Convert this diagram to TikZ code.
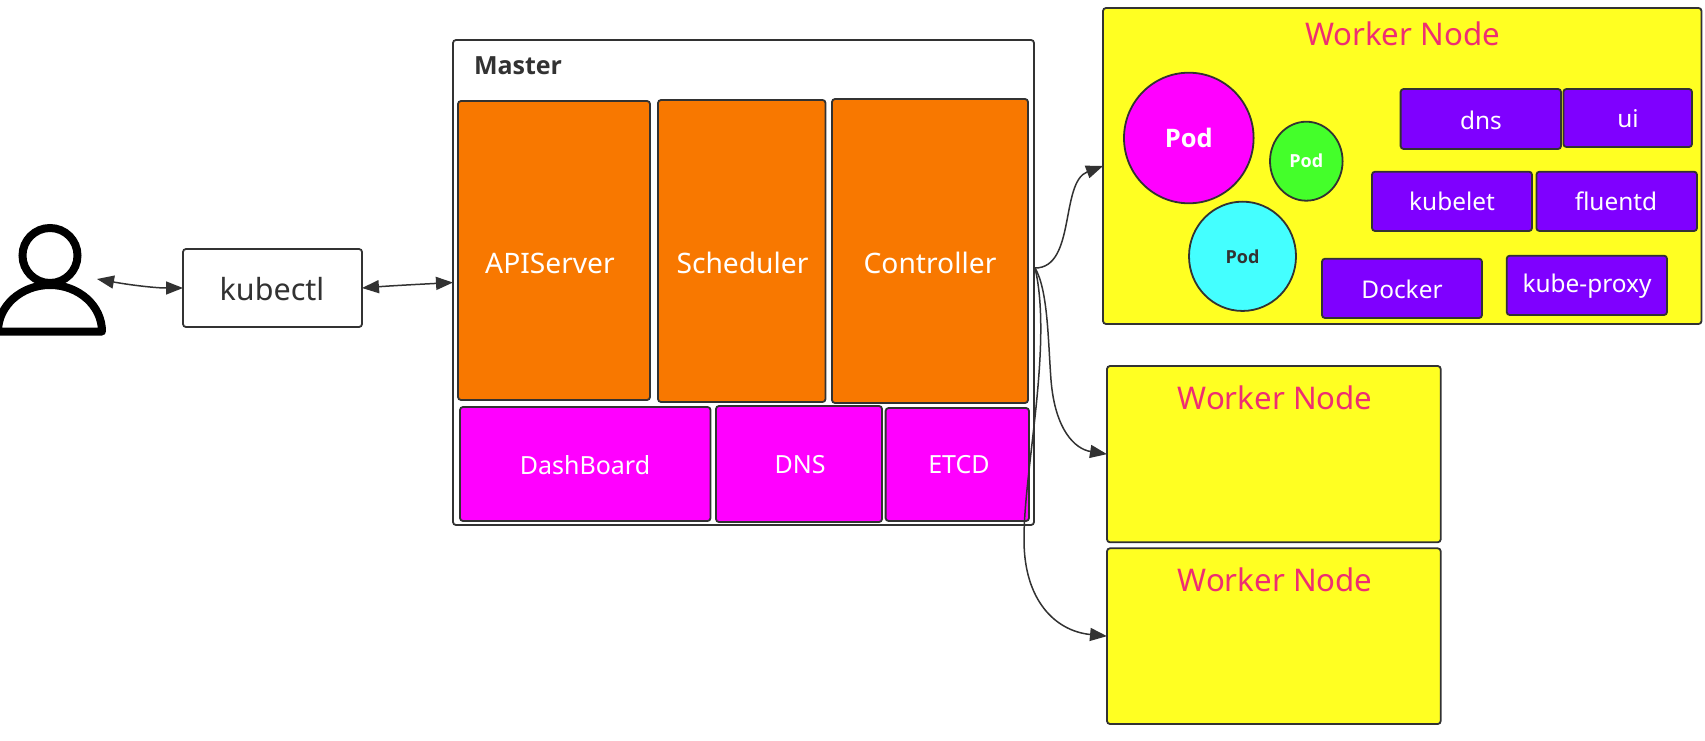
\documentclass[tikz,border=0pt]{standalone}
\usepackage{fontspec}
\setmainfont{Noto Sans}
\newfontfamily\heavyfont{Open Sans}
\usetikzlibrary{arrows.meta,shapes.geometric}
\definecolor{ink}{HTML}{323232}
\definecolor{orangefill}{HTML}{F87800}
\definecolor{magentafill}{HTML}{FF00FF}
\definecolor{purplefill}{HTML}{7F00FF}
\definecolor{yellowfill}{HTML}{FFFF22}
\definecolor{greenfill}{HTML}{44FF2A}
\definecolor{cyanfill}{HTML}{44FFFF}
\definecolor{titlepink}{HTML}{EE2E72}
\tikzset{
  base/.style={draw=ink,line width=1.8pt,rounded corners=3pt,inner sep=0pt,outer sep=0pt},
  whitebox/.style={base,fill=white},
  orangebox/.style={base,fill=orangefill},
  magentabox/.style={base,fill=magentafill},
  purplebox/.style={base,fill=purplefill},
  yellowbox/.style={base,fill=yellowfill},
  podshape/.style={draw=ink,line width=1.8pt,ellipse,inner sep=0pt,outer sep=0pt},
  lbl/.style={inner sep=0pt,outer sep=0pt,text=white,font=\fontsize{28.2}{32}\selectfont},
  smalllbl/.style={lbl,font=\fontsize{25}{29}\selectfont},
  purplelbl/.style={lbl,font=\fontsize{24.4}{28}\selectfont},
  titlelbl/.style={lbl,text=titlepink,font=\fontsize{31.2}{36}\selectfont},
  wire/.style={draw=ink,line width=1.5pt},
  tip/.style={-{Triangle[length=17pt,width=13pt]}},
  bothtips/.style={{Triangle[length=17pt,width=13pt]}-{Triangle[length=17pt,width=13pt]}},
}
\newcommand{\rbox}[6]{%
  \pgfmathsetmacro{\cxa}{(#3+#5)/2}\pgfmathsetmacro{\cya}{(#4+#6)/2}%
  \pgfmathsetmacro{\wa}{#5-#3}\pgfmathsetmacro{\ha}{#6-#4}%
  \node[#2,minimum width=\wa pt,minimum height=\ha pt] (#1) at (\cxa,\cya) {};}
\begin{document}
\begin{tikzpicture}[x=1pt,y=-1pt]
\useasboundingbox (0,0) rectangle (1705,741);
% person
\draw[black,line width=8pt] (50,255.5) circle (27.5pt);
\draw[black,line width=8pt,line join=round] (-2,331.5) arc[start angle=180,end angle=0,x radius=52pt,y radius=46.5pt] -- cycle;
\coordinate (person) at (97,279);
% kubectl
\rbox{kubectl}{whitebox}{183}{249}{362}{327}
\node[lbl,text=ink,font=\fontsize{30.5}{35}\selectfont] (kubectlt) at (272,289) {kubectl};
% master
\rbox{master}{whitebox}{453}{40}{1034}{525}
\node[lbl,text=ink,anchor=west,font=\heavyfont\bfseries\fontsize{25}{30}\selectfont] (mastert) at (474,66) {Master};
\rbox{api}{orangebox}{458}{101}{650}{400}
\rbox{sched}{orangebox}{658}{100}{825.5}{402}
\rbox{ctrl}{orangebox}{832}{99}{1028}{403}
\node[lbl] (apit) at (550,263) {APIServer};
\node[lbl] (schedt) at (742.5,262.7) {Scheduler};
\node[lbl] (ctrlt) at (930,262.7) {Controller};
\rbox{dash}{magentabox}{460}{407}{710.5}{521}
\rbox{dnsm}{magentabox}{716}{406}{882}{522}
\rbox{etcd}{magentabox}{885.6}{408}{1029}{521}
\node[smalllbl] (dasht) at (585,465) {DashBoard};
\node[smalllbl] (dnsmt) at (800,465) {DNS};
\node[smalllbl] (etcdt) at (959,465) {ETCD};
% worker 1
\rbox{wa}{yellowbox}{1103}{8}{1701.5}{324}
\node[titlelbl] (wat) at (1402.4,34) {Worker Node};
\node[podshape,fill=magentafill,minimum width=129.6pt,minimum height=130.6pt,text=white,font=\heavyfont\bfseries\fontsize{25.5}{30}\selectfont] (poda) at (1188.8,138) {Pod};
\node[podshape,fill=greenfill,minimum width=72.6pt,minimum height=79pt,text=white,font=\heavyfont\bfseries\fontsize{18}{22}\selectfont] (podb) at (1306.3,161.2) {Pod};
\node[podshape,fill=cyanfill,minimum width=107pt,minimum height=109.3pt,text=ink,font=\heavyfont\bfseries\fontsize{18}{22}\selectfont] (podc) at (1242.5,256.3) {Pod};
\rbox{dnsw}{purplebox}{1400.6}{89}{1561}{149}
\rbox{ui}{purplebox}{1563.4}{89}{1692}{147}
\rbox{kubelet}{purplebox}{1372}{171.7}{1532}{231}
\rbox{fluentd}{purplebox}{1536.4}{171.7}{1697}{231}
\rbox{docker}{purplebox}{1322}{258.7}{1482}{318}
\rbox{proxy}{purplebox}{1506.7}{255.7}{1667}{315}
\node[purplelbl] (dnswt) at (1481,120) {dns};
\node[purplelbl] (uit) at (1628,119) {ui};
\node[purplelbl] (kubeletl) at (1452,201.5) {kubelet};
\node[purplelbl] (fluentdt) at (1616,201.5) {fluentd};
\node[purplelbl] (dockert) at (1402,289.7) {Docker};
\node[purplelbl] (proxyt) at (1587,286) {kube-proxy};
% workers 2 and 3
\rbox{wb}{yellowbox}{1107}{366}{1440.7}{542.3}
\node[titlelbl] (wbt) at (1275,397.7) {Worker Node};
\rbox{wc}{yellowbox}{1107}{548.3}{1440.7}{724}
\node[titlelbl] (wct) at (1275,579.3) {Worker Node};
% connectors
\coordinate (hub) at (1035,268);
\draw[wire,bothtips] (person) .. controls (130,285) and (155,288) .. (kubectl.west);
\draw[wire,bothtips] (kubectl.east) .. controls (395,285.5) and (425,284) .. (master.west);
\draw[wire,tip] (hub) .. controls (1076,268) and (1060,182) .. (wa.west);
\draw[wire,tip] (hub) .. controls (1048,290) and (1048,340) .. (1051,380) .. controls (1055,430) and (1075,449) .. (wb.west);
\draw[wire,tip] (hub) .. controls (1045,310) and (1040,370) .. (1035,417) .. controls (1028,480) and (1024,510) .. (1024,540) .. controls (1024,600) and (1055,631) .. (wc.west);
\end{tikzpicture}
\end{document}
